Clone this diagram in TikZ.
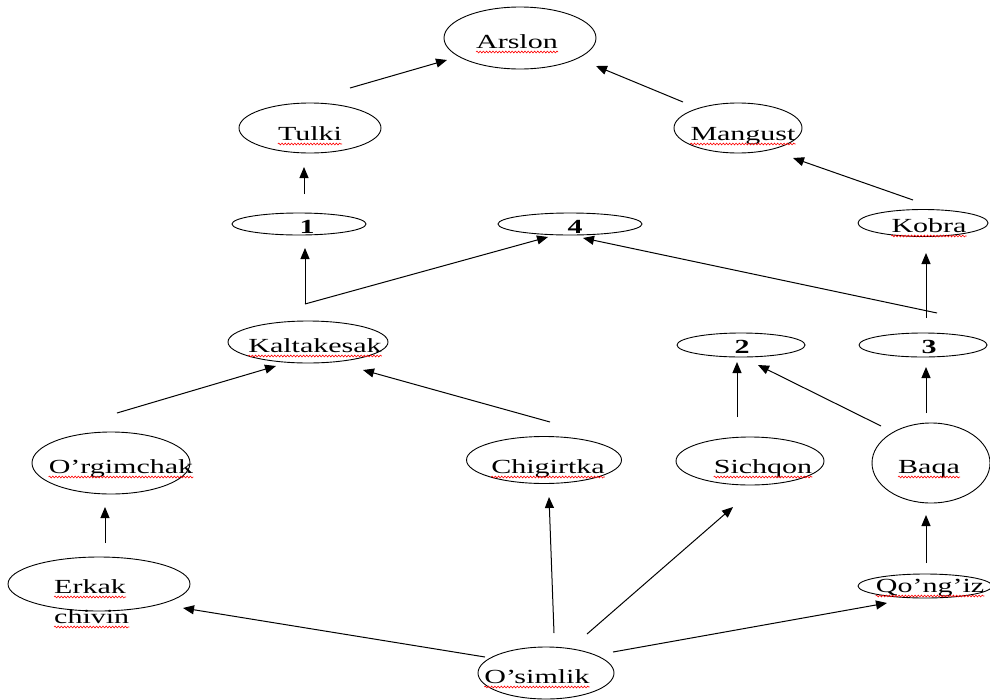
\documentclass[tikz,border=0pt]{standalone}
\usepackage{fontspec}
\setmainfont{Liberation Serif}[FakeStretch=1.5]
\usetikzlibrary{shapes.geometric,arrows.meta,decorations.pathmorphing}
\tikzset{
  ell/.style={draw=black, ellipse, line width=0.9pt, inner sep=0pt},
  txt/.style={inner sep=0pt, anchor=base, font=\fontsize{20}{24}\selectfont},
  txtl/.style={inner sep=0pt, anchor=base west, font=\fontsize{20}{24}\selectfont},
  num/.style={inner sep=0pt, anchor=base, font=\fontsize{20}{24}\selectfont\bfseries},
  arr/.style={line width=1pt, -{Triangle[length=11pt,width=9pt]}},
  ln/.style={line width=1pt},
  wavy/.style={draw=red, line width=0.6pt, decorate, decoration={snake, amplitude=0.9pt, segment length=3.2pt}}
}
\newcommand{\squig}[1]{\draw[wavy] ([yshift=-4pt]#1.base west) -- ([yshift=-4pt]#1.base east);}
\begin{document}
\begin{tikzpicture}[x=1pt,y=-1pt]
\useasboundingbox (0,0) rectangle (990,699);
% ellipses
\node[ell, minimum width=152pt, minimum height=62pt] (arslon) at (520,38) {};
\node[ell, minimum width=142pt, minimum height=50pt] (tulki) at (310,128) {};
\node[ell, minimum width=128pt, minimum height=50pt] (mangust) at (738,128) {};
\node[ell, minimum width=134pt, minimum height=22pt] (n1) at (299,224) {};
\node[ell, minimum width=144pt, minimum height=22pt] (n4) at (570,224) {};
\node[ell, minimum width=130pt, minimum height=27pt] (kobra) at (923,223) {};
\node[ell, minimum width=160pt, minimum height=42pt] (kaltakesak) at (308,342) {};
\node[ell, minimum width=128pt, minimum height=24pt] (n2) at (741,345) {};
\node[ell, minimum width=128pt, minimum height=24pt] (n3) at (923,345) {};
\node[ell, minimum width=158pt, minimum height=62pt] (orgimchak) at (111,463) {};
\node[ell, minimum width=155pt, minimum height=47pt] (chigirtka) at (544,460) {};
\node[ell, minimum width=148pt, minimum height=48pt] (sichqon) at (750,461) {};
\node[ell, minimum width=118pt, minimum height=80pt] (baqa) at (931,463) {};
\node[ell, minimum width=182pt, minimum height=54pt] (erkak) at (99,584) {};
\node[ell, minimum width=134pt, minimum height=24pt] (qongiz) at (925,586) {};
\node[ell, minimum width=136pt, minimum height=52pt] (osimlik) at (546,673) {};
% texts
\node[txt] (tArslon) at (517,48) {Arslon};
\node[txt] (tTulki) at (310,140) {Tulki};
\node[txt] (tMangust) at (743,140) {Mangust};
\node[num] (t1) at (307,233) {1};
\node[num] (t4) at (575,233) {4};
\node[txt] (tKobra) at (929,232) {Kobra};
\node[txt] (tKalt) at (315,352) {Kaltakesak};
\node[num] (t2) at (742,353) {2};
\node[num] (t3) at (929,353) {3};
\node[txt] (tOrg) at (121,473) {O’rgimchak};
\node[txt] (tChig) at (548,473) {Chigirtka};
\node[txt] (tSich) at (763,473) {Sichqon};
\node[txt] (tBaqa) at (929,473) {Baqa};
\node[txtl] (tErkak) at (54,593) {Erkak};
\node[txtl] (tChivin) at (54,623) {chivin};
\node[txt] (tQong) at (930,592) {Qo’ng’iz};
\node[txt] (tOsim) at (537,683) {O’simlik};
% spell-check underlines
\squig{tArslon}\squig{tTulki}\squig{tMangust}\squig{tKobra}\squig{tKalt}
\squig{tOrg}\squig{tChig}\squig{tSich}\squig{tBaqa}\squig{tErkak}\squig{tChivin}
\squig{tQong}\squig{tOsim}
% connector end points
\coordinate (s1) at (350,88);  \coordinate (e1) at (447,60);
\coordinate (s2) at (683,102); \coordinate (e2) at (596,66);
\coordinate (s3) at (304,194); \coordinate (e3) at (304,167);
\coordinate (s4) at (913,200); \coordinate (e4) at (793,158);
\coordinate (jk) at (305,304); \coordinate (e5) at (305,248); \coordinate (e6) at (548,237);
\coordinate (j3) at (926,318); \coordinate (e7) at (926,253);
\coordinate (j3b) at (937,313); \coordinate (e8) at (583,238);
\coordinate (s9) at (737,417); \coordinate (e9) at (737,362);
\coordinate (s10) at (881,426); \coordinate (e10) at (758,365);
\coordinate (s11) at (926,413); \coordinate (e11) at (926,367);
\coordinate (s12) at (117,413); \coordinate (e12) at (276,366);
\coordinate (s13) at (550,422); \coordinate (e13) at (363,370);
\coordinate (s14) at (105,543); \coordinate (e14) at (105,507);
\coordinate (s15) at (554,633); \coordinate (e15) at (549,497);
\coordinate (s16) at (587,634); \coordinate (e16) at (733,507);
\coordinate (s17) at (613,652); \coordinate (e17) at (887,603);
\coordinate (s18) at (485,657); \coordinate (e18) at (183,608);
\coordinate (s19) at (926,563); \coordinate (e19) at (926,515);
% connectors
\draw[arr] (s1) -- (e1);
\draw[arr] (s2) -- (e2);
\draw[arr] (s3) -- (e3);
\draw[arr] (s4) -- (e4);
\draw[arr] (jk) -- (e5);
\draw[arr] (jk) -- (e6);
\draw[arr] (j3) -- (e7);
\draw[arr] (j3b) -- (e8);
\draw[arr] (s9) -- (e9);
\draw[arr] (s10) -- (e10);
\draw[arr] (s11) -- (e11);
\draw[arr] (s12) -- (e12);
\draw[arr] (s13) -- (e13);
\draw[arr] (s14) -- (e14);
\draw[arr] (s15) -- (e15);
\draw[arr] (s16) -- (e16);
\draw[arr] (s17) -- (e17);
\draw[arr] (s18) -- (e18);
\draw[arr] (s19) -- (e19);
\end{tikzpicture}
\end{document}
